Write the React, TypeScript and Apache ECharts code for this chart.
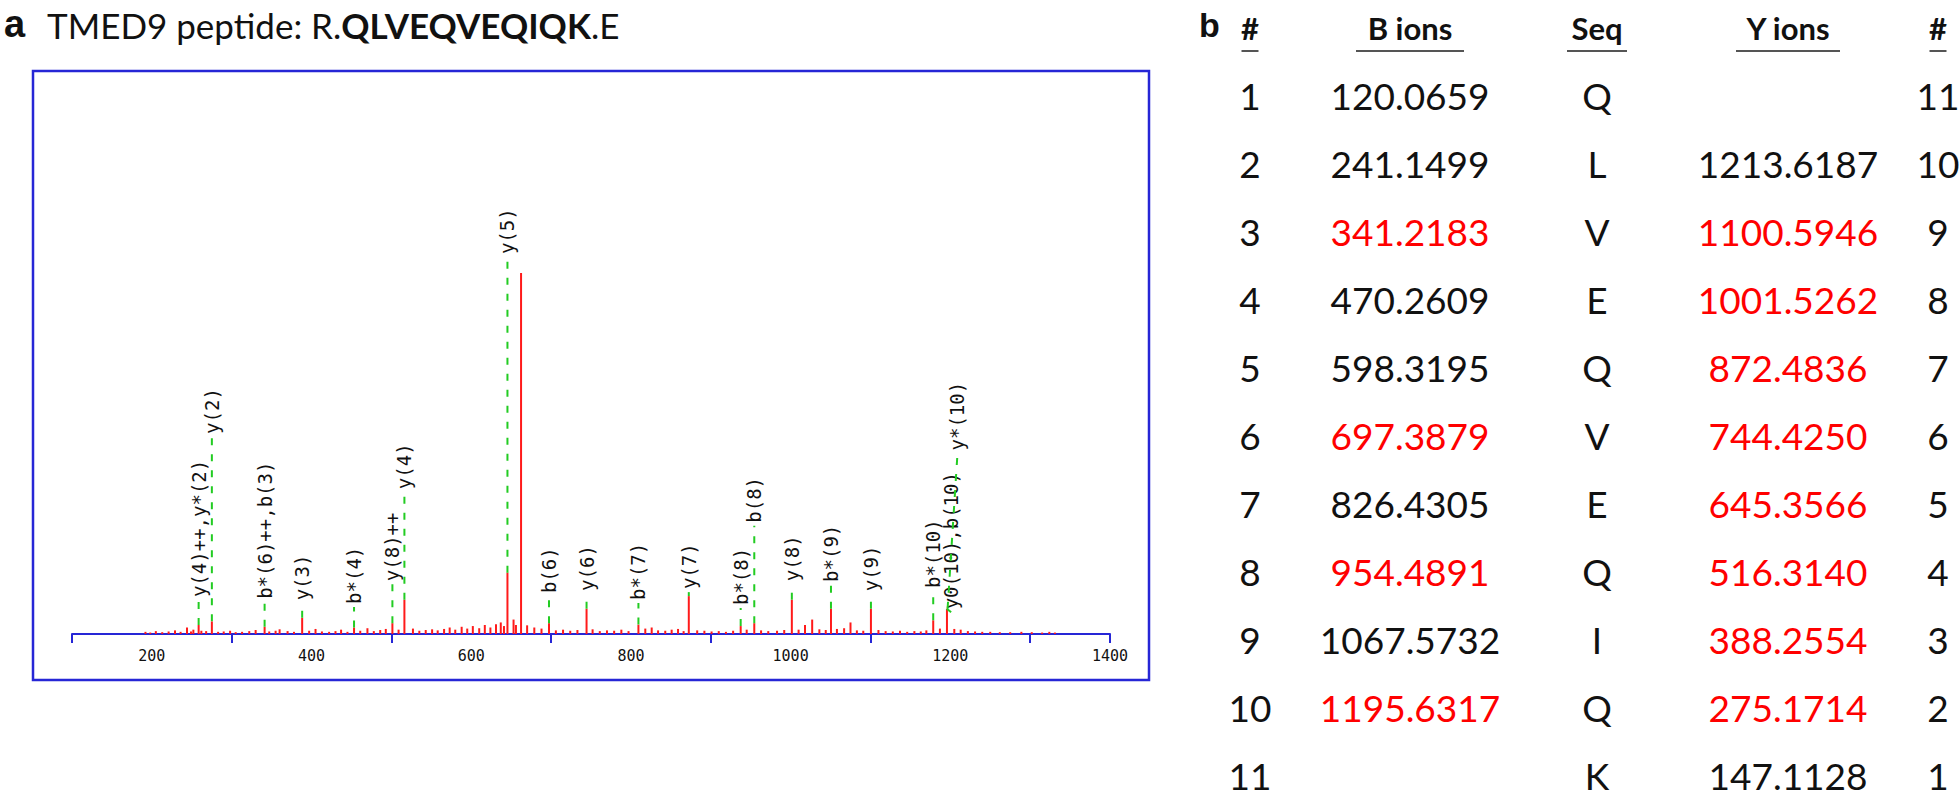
import React, { useEffect, useRef } from "react";
import * as echarts from "echarts";

// ---------- data ----------
const titleLetter = "a";
const titlePre = "TMED9 peptide: R.";
const titleSeq = "QLVEQVEQIQK";
const titlePost = ".E";

const xTickLabels = [200, 400, 600, 800, 1000, 1200, 1400];

// spectrum peaks (m/z, relative intensity %)
const peakMz = [
  258.6, 275.17, 341.22, 388.26, 453.23, 501.27, 516.31, 645.36, 662.4, 697.39, 744.43, 809.4, 872.48,
  937.46, 954.49, 1001.53, 1050.54, 1100.59, 1178.6, 1195.8,
  192, 198, 205, 213, 221, 229, 236, 244, 249, 252, 262, 268, 283, 290, 298, 305, 313, 322, 330, 347,
  355, 360, 370, 378, 397, 405, 413, 422, 430, 437, 445, 461, 470, 478, 486, 493, 509, 527, 535, 543,
  551, 558, 566, 573, 580, 588, 595, 602, 610, 617, 624, 631, 637, 641, 653, 656, 670, 679, 688, 706,
  715, 724, 733, 752, 761, 770, 779, 788, 797, 818, 826, 834, 843, 851, 859, 866, 883, 892, 901, 910,
  919, 928, 945, 963, 972, 983, 992, 1010, 1018, 1027, 1036, 1044, 1058, 1067, 1075, 1083, 1091, 1110,
  1119, 1128, 1137, 1146, 1155, 1163, 1170, 1187, 1205, 1213, 1222, 1231, 1240, 1250, 1262, 1275, 1289,
  1302, 1315, 1324, 1331,
];
const peakInt = [
  2.5, 3.5, 2.0, 4.5, 1.8, 3.0, 9.5, 17, 100, 3.0, 7.0, 2.6, 10.5,
  2.2, 3.0, 9.5, 7.0, 7.0, 3.8, 7.0,
  0.6, 0.4, 0.8, 0.5, 0.7, 1.0, 0.6, 1.8, 0.7, 1.2, 0.9, 0.8, 0.6, 0.7, 0.9, 0.5, 0.6, 0.8, 1.1, 0.7,
  0.9, 1.3, 0.8, 0.6, 0.9, 1.4, 0.7, 0.6, 0.8, 1.2, 0.6, 0.9, 1.6, 0.8, 1.1, 1.4, 1.2, 1.5, 0.9, 1.1,
  1.3, 1.0, 1.4, 1.8, 1.2, 2.0, 1.5, 2.2, 1.6, 2.5, 1.8, 2.7, 3.2, 2.2, 4.0, 2.5, 2.4, 1.8, 1.5, 1.0,
  1.2, 0.9, 1.1, 1.3, 0.8, 1.0, 0.9, 1.2, 0.8, 1.5, 1.8, 1.0, 0.9, 1.2, 1.4, 0.8, 1.0, 0.9, 0.7, 0.8,
  0.6, 0.9, 1.2, 1.0, 0.8, 0.9, 1.1, 1.2, 2.5, 4.0, 1.3, 1.1, 1.4, 1.6, 3.2, 1.0, 0.9, 1.1,
  0.8, 0.7, 0.9, 0.6, 0.8, 0.7, 1.0, 1.5, 1.4, 1.2, 0.8, 0.7, 0.6, 0.6, 0.5, 0.5, 0.6,
  0.5, 0.4, 0.6, 0.4,
];

// annotated fragment ions
const ionLabels = [
  "y(4)++,y*(2)", "y(2)", "b*(6)++,b(3)", "y(3)", "b*(4)", "y(8)++", "y(4)", "y(5)", "b(6)", "y(6)",
  "b*(7)", "y(7)", "b*(8)", "b(8)", "y(8)", "b*(9)", "y(9)", "b*(10)", "y0(10),b(10)", "y*(10)",
];
const ionMz = [
  258.6, 275.17, 341.22, 388.26, 453.23, 501.27, 516.31, 645.36, 697.39, 744.43,
  809.4, 872.48, 937.46, 954.49, 1001.53, 1050.54, 1100.59, 1178.6, 1195.63, 1196.59,
];
const ionPeakTop = [2.5, 3.5, 2.0, 4.5, 1.8, 3.0, 9.5, 17, 3.0, 7.0, 2.6, 10.5, 2.2, 3.0, 9.5, 7.0, 7.0, 3.8, 7.0, 7.0];
const ionLabelBase = [9.4, 54.6, 8.9, 8.5, 7.5, 13.8, 39.3, 104.4, 10.5, 11.1, 8.6, 11.6, 7.2, 30, 13.8, 13.6, 11, 11.9, 6, 50];
const ionLabelMz = [
  258.6, 275.17, 341.22, 388.26, 453.23, 501.27, 516.31, 645.36, 697.39, 744.43,
  809.4, 872.48, 937.46, 954.49, 1001.53, 1050.54, 1100.59, 1178.6, 1201, 1209,
];

// fragment table
const tableHeaders = ["#", "B ions", "Seq", "Y ions", "#"];
const rowNumbers = ["1", "2", "3", "4", "5", "6", "7", "8", "9", "10", "11"];
const bIons = ["120.0659", "241.1499", "341.2183", "470.2609", "598.3195", "697.3879", "826.4305", "954.4891", "1067.5732", "1195.6317", ""];
const bIonMatched = [false, false, true, false, false, true, false, true, false, true, false];
const seqResidues = ["Q", "L", "V", "E", "Q", "V", "E", "Q", "I", "Q", "K"];
const yIons = ["", "1213.6187", "1100.5946", "1001.5262", "872.4836", "744.4250", "645.3566", "516.3140", "388.2554", "275.1714", "147.1128"];
const yIonMatched = [false, false, true, true, true, true, true, true, true, true, false];
const rowNumbersRev = ["11", "10", "9", "8", "7", "6", "5", "4", "3", "2", "1"];

// ---------- layout ----------
const W = 1960;
const H = 796;
const GRID_LEFT = 72;
const GRID_RIGHT_X = 1110;
const GRID_TOP = 273;
const BASELINE_Y = 634;
const BLUE = "#2626d6";
const RED = "#ff1a1a";
const GREEN = "#22cc22";
const TABLE_FONT = "Lato";
const colX = [1250, 1410, 1597, 1788, 1938];
const colW = [17, 108, 60, 104, 17];
const headerY = 28;
const row0Y = 95;
const rowStep = 68;

export default function App() {
  const ref = useRef<HTMLDivElement>(null);

  useEffect(() => {
    if (!ref.current) return;
    const chart = echarts.init(ref.current, null, { renderer: "svg", width: W, height: H });

    const peakData = peakMz.map((m, i) => [m, peakInt[i]]);
    const ionData = ionMz.map((m, i) => [m, ionPeakTop[i], ionLabelBase[i], ionLabelMz[i]]);

    const graphics: any[] = [];
    // panel a title
    graphics.push({
      type: "text", x: 4, y: 24,
      style: { text: titleLetter, font: 'bold 38px "Liberation Sans"', fill: "#111", textVerticalAlign: "middle" },
    });
    graphics.push({
      type: "text", x: 47, y: 25,
      style: {
        text: `{r|${titlePre}}{b|${titleSeq}}{r|${titlePost}}`,
        textVerticalAlign: "middle",
        rich: {
          r: { font: '35px "Lato"', fill: "#111" },
          b: { font: 'bold 35px "Lato"', fill: "#111" },
        },
      },
    });
    // blue frame of the spectrum
    graphics.push({
      type: "rect", shape: { x: 33, y: 71, width: 1116, height: 609 },
      style: { fill: "none", stroke: BLUE, lineWidth: 2.5 }, z: 10,
    });
    // panel b
    graphics.push({
      type: "text", x: 1199, y: 25,
      style: { text: "b", font: 'bold 34px "Liberation Sans"', fill: "#111", textVerticalAlign: "middle" },
    });
    tableHeaders.forEach((h, c) => {
      graphics.push({
        type: "text", x: colX[c], y: headerY,
        style: { text: h, font: `bold 31px "${TABLE_FONT}"`, fill: "#111", textAlign: "center", textVerticalAlign: "middle" },
      });
      graphics.push({
        type: "line", shape: { x1: colX[c] - colW[c] / 2, y1: 51, x2: colX[c] + colW[c] / 2, y2: 51 },
        style: { stroke: "#555", lineWidth: 2 },
      });
    });
    const cell = (txt: string, c: number, r: number, color: string) => {
      if (!txt) return;
      graphics.push({
        type: "text", x: colX[c], y: row0Y + r * rowStep,
        style: { text: txt, font: `37px "${TABLE_FONT}"`, fill: color, textAlign: "center", textVerticalAlign: "middle" },
      });
    };
    rowNumbers.forEach((n, r) => {
      cell(n, 0, r, "#111");
      cell(bIons[r], 1, r, bIonMatched[r] ? "#ff0000" : "#111");
      cell(seqResidues[r], 2, r, "#111");
      cell(yIons[r], 3, r, yIonMatched[r] ? "#ff0000" : "#111");
      cell(rowNumbersRev[r], 4, r, "#111");
    });

    chart.setOption({
      animation: false,
      backgroundColor: "#fff",
      grid: {
        left: GRID_LEFT, top: GRID_TOP,
        width: GRID_RIGHT_X - GRID_LEFT, height: BASELINE_Y - GRID_TOP,
        containLabel: false,
      },
      xAxis: [
        {
          type: "value", min: 100, max: 1400, interval: 100,
          axisLine: { show: true, lineStyle: { color: BLUE, width: 2 } },
          axisTick: { show: false },
          splitLine: { show: false },
          axisLabel: {
            show: true, margin: 14, color: "#111",
            fontFamily: "DejaVu Sans Mono", fontSize: 15,
            formatter: (v: number) => (xTickLabels.indexOf(v) >= 0 ? String(v) : ""),
          },
        },
        {
          // tick helper axis: ticks at 100, 300, ... 1300
          type: "value", min: 0, max: 1300, interval: 200, position: "bottom",
          axisLine: { show: false },
          axisTick: { show: true, length: 9, lineStyle: { color: BLUE, width: 2 } },
          axisLabel: { show: false },
          splitLine: { show: false },
        },
      ],
      yAxis: { type: "value", min: 0, max: 100, show: false },
      graphic: graphics,
      series: [
        {
          type: "custom",
          name: "peaks",
          xAxisIndex: 0,
          clip: false,
          data: peakData,
          z: 3,
          renderItem: (params: any, api: any) => {
            const p0 = api.coord([api.value(0), 0]);
            const p1 = api.coord([api.value(0), api.value(1)]);
            return {
              type: "line",
              shape: { x1: p0[0], y1: p0[1], x2: p1[0], y2: p1[1] },
              style: { stroke: RED, lineWidth: 2 },
            };
          },
        },
        {
          type: "custom",
          name: "ions",
          xAxisIndex: 0,
          clip: false,
          data: ionData,
          z: 4,
          renderItem: (params: any, api: any) => {
            const i = params.dataIndex;
            const p0 = api.coord([api.value(0), api.value(1)]);
            const p1 = api.coord([api.value(3), api.value(2)]);
            return {
              type: "group",
              children: [
                {
                  type: "line",
                  shape: { x1: p0[0], y1: p0[1], x2: p1[0], y2: p1[1] },
                  style: { stroke: GREEN, lineWidth: 2, lineDash: [7, 9] },
                },
                {
                  type: "text",
                  x: p1[0], y: p1[1] - 3,
                  rotation: Math.PI / 2,
                  style: {
                    text: ionLabels[i], fill: "#111",
                    font: '19px "DejaVu Sans Mono"',
                    textAlign: "left", textVerticalAlign: "middle",
                  },
                },
              ],
            };
          },
        },
      ],
    });

    return () => chart.dispose();
  }, []);

  return <div ref={ref} style={{ position: "absolute", left: 0, top: 0, width: W, height: H }} />;
}
